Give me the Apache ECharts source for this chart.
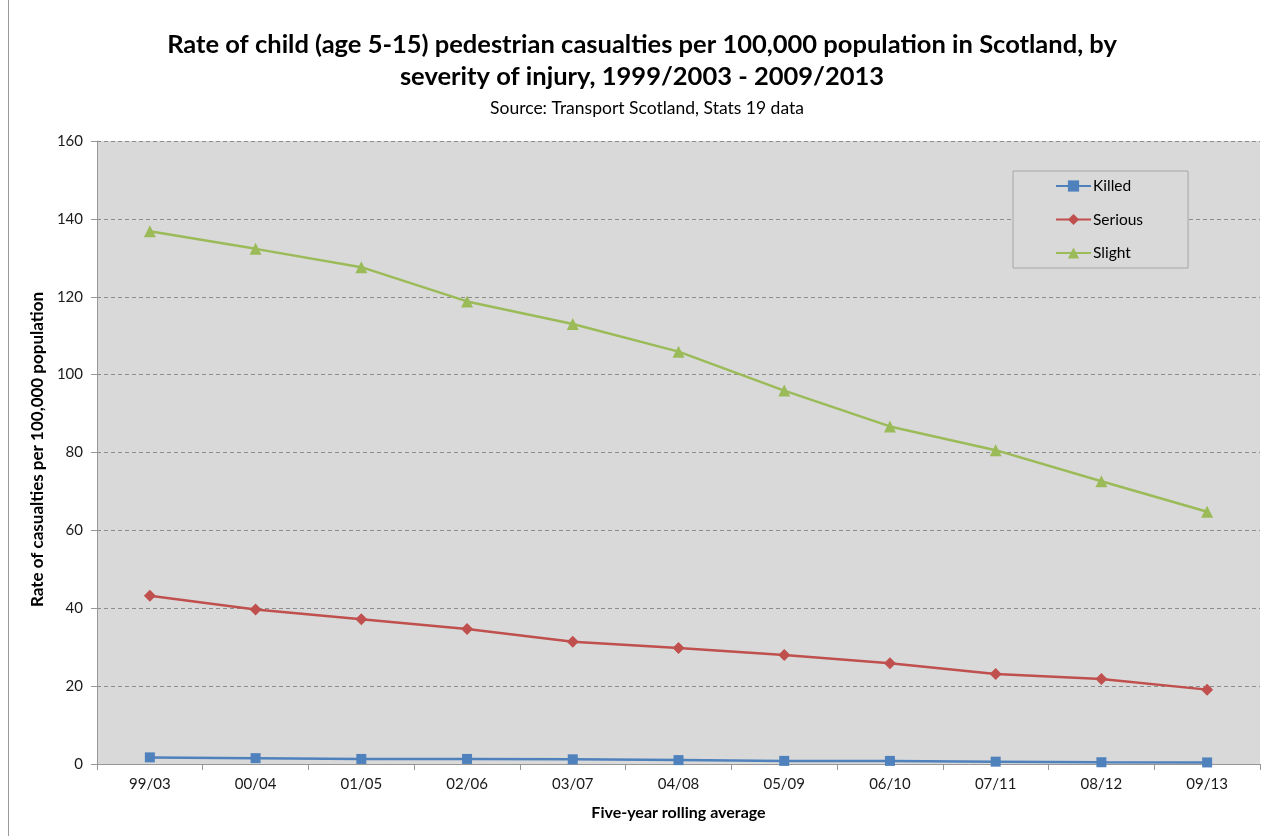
<!DOCTYPE html>
<html>
<head>
<meta charset="utf-8">
<script src="https://cdn.jsdelivr.net/npm/echarts@6/dist/echarts.min.js"></script>
<style>
  html, body { margin: 0; padding: 0; background: #ffffff; }
  #chart { width: 1275px; height: 836px; }
</style>
</head>
<body>
<div id="chart"></div>
<script>
// Five-year rolling periods
const periods = ['99/03', '00/04', '01/05', '02/06', '03/07', '04/08', '05/09', '06/10', '07/11', '08/12', '09/13'];

// Rate of child pedestrian casualties per 100,000 population
const killed  = [1.7, 1.5, 1.3, 1.3, 1.2, 1.0, 0.8, 0.8, 0.6, 0.45, 0.4];
const serious = [43.2, 39.7, 37.2, 34.7, 31.4, 29.8, 28.0, 25.9, 23.1, 21.8, 19.1];
const slight  = [136.8, 132.3, 127.6, 118.8, 113.0, 105.9, 95.9, 86.7, 80.6, 72.6, 64.8];

const yMin = 0, yMax = 160, yStep = 20;

const FONT = 'Lato, "Open Sans", sans-serif';

const chart = echarts.init(document.getElementById('chart'), null, { renderer: 'canvas' });

function lineSeries(name, data, color, symbol, size) {
  return {
    name: name,
    type: 'line',
    data: data,
    symbol: symbol,
    symbolSize: size,
    showSymbol: true,
    lineStyle: { color: color, width: 2.5 },
    itemStyle: { color: color, borderWidth: 0 },
    emphasis: { disabled: true },
    z: 3
  };
}

chart.setOption({
  backgroundColor: '#ffffff',
  animation: false,
  textStyle: { fontFamily: FONT },
  title: [
    {
      text: 'Rate of child (age 5-15) pedestrian casualties per 100,000 population in Scotland, by\nseverity of injury, 1999/2003 - 2009/2013',
      left: 637,
      top: 24,
      textAlign: 'center',
      textStyle: { fontFamily: FONT, fontSize: 25.5, fontWeight: 'bold', color: '#000000', lineHeight: 32 }
    },
    {
      text: 'Source: Transport Scotland, Stats 19 data',
      left: 642,
      top: 94,
      textAlign: 'center',
      textStyle: { fontFamily: FONT, fontSize: 17.5, fontWeight: 'normal', color: '#000000' }
    }
  ],
  legend: {
    orient: 'vertical',
    left: 1013,
    top: 171,
    padding: [7, 45, 7, 42],
    itemWidth: 35,
    itemHeight: 14,
    itemGap: 17.5,
    backgroundColor: '#D9D9D9',
    borderColor: '#a6a6a6',
    borderWidth: 1,
    textStyle: { fontFamily: FONT, fontSize: 15.5, color: '#000000', padding: [0, 0, 0, -3] },
    data: ['Killed', 'Serious', 'Slight']
  },
  grid: {
    left: 97,
    right: 15,
    top: 141,
    bottom: 72,
    show: true,
    backgroundColor: '#D9D9D9',
    borderWidth: 0
  },
  xAxis: {
    type: 'category',
    data: periods,
    boundaryGap: true,
    name: 'Five-year rolling average',
    nameLocation: 'middle',
    nameGap: 41,
    nameTextStyle: { fontFamily: FONT, fontSize: 16, fontWeight: 'bold', color: '#000000' },
    axisLine: { show: true, lineStyle: { color: '#969696', width: 1 } },
    axisTick: { show: true, alignWithLabel: false, length: 6, lineStyle: { color: '#969696' } },
    axisLabel: { fontFamily: FONT, fontSize: 15, color: '#1a1a1a', margin: 13 },
    splitLine: { show: false }
  },
  yAxis: {
    type: 'value',
    min: yMin,
    max: yMax,
    interval: yStep,
    name: 'Rate of casualties per 100,000 population',
    nameLocation: 'middle',
    nameGap: 43,
    nameRotate: 90,
    nameTextStyle: { fontFamily: FONT, fontSize: 17, fontWeight: 'bold', color: '#000000', padding: [0, 0, 0, 6] },
    axisLine: { show: true, lineStyle: { color: '#969696', width: 1 } },
    axisTick: { show: true, length: 6, lineStyle: { color: '#969696' } },
    axisLabel: { fontFamily: FONT, fontSize: 15, color: '#1a1a1a', margin: 14 },
    splitLine: { show: true, lineStyle: { color: '#8c8c8c', width: 1, type: [4, 3] } }
  },
  graphic: [
    {
      type: 'line',
      shape: { x1: 8.5, y1: 0, x2: 8.5, y2: 836 },
      style: { stroke: '#9a9a9a', lineWidth: 1 },
      silent: true
    }
  ],
  series: [
    lineSeries('Killed', killed, '#4F81BD', 'rect', 10),
    lineSeries('Serious', serious, '#C0504D', 'diamond', 12),
    lineSeries('Slight', slight, '#9BBB59', 'triangle', 12)
  ]
});
</script>
</body>
</html>
